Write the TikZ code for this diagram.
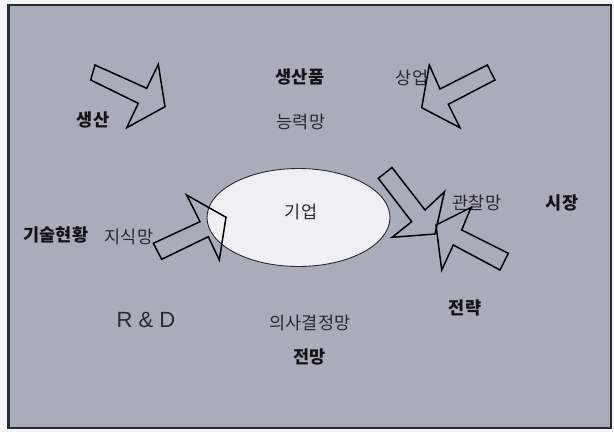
\documentclass[tikz,border=0pt]{standalone}
\usepackage{fontspec}
\setmainfont{Noto Sans CJK KR}
\newfontfamily\latinsans{Liberation Sans}
\usetikzlibrary{shapes.geometric}
\definecolor{bggray}{HTML}{A9ADBA}
\definecolor{ellfill}{HTML}{EEF0F3}
\definecolor{pagewhite}{HTML}{F5F5F7}
\definecolor{framecol}{HTML}{2A2A33}
\definecolor{regtext}{HTML}{2A2A30}
\definecolor{boldtext}{HTML}{141418}
\begin{document}
\begin{tikzpicture}[x=1pt,y=-1pt,
  blockarrow/.style={draw=black,line width=1.5pt,line join=miter},
  boldlabel/.style={font=\fontsize{17.5}{17.5}\selectfont\bfseries,text=boldtext,inner sep=0pt},
  reglabel/.style={font=\fontsize{17.5}{17.5}\selectfont,text=regtext,inner sep=0pt}]
\useasboundingbox (0,0) rectangle (614,432);
\fill[pagewhite] (0,0) rectangle (614,432);
\draw[framecol,line width=2.5pt,fill=bggray] (8.5,5) rectangle (611,428);
% central ellipse
\node[ellipse,draw=framecol,line width=0.9pt,fill=ellfill,minimum width=183pt,minimum height=98pt,inner sep=0pt] (firm) at (298.5,217.5) {};
\node[reglabel] (firmtext) at (301,212) {기업};
% labels
\node[boldlabel] (product) at (300,77) {생산품};
\node[reglabel] (commerce) at (412,78) {상업};
\node[boldlabel] (production) at (93,120) {생산};
\node[reglabel] (capability) at (301,122) {능력망};
\node[reglabel] (observe) at (477,203) {관찰망};
\node[boldlabel] (market) at (562,203) {시장};
\node[boldlabel] (techstate) at (56,235) {기술현황};
\node[reglabel] (knowledge) at (129,237) {지식망};
\node[font=\latinsans\fontsize{22}{22}\selectfont,text=regtext,inner sep=0pt] (rnd) at (146,320) {R \& D};
\node[reglabel] (decision) at (310,323) {의사결정망};
\node[boldlabel] (strategy) at (465,308) {전략};
\node[boldlabel] (outlook) at (309.5,357) {전망};
% block arrows
\draw[blockarrow] (95,65) -- (146.7,88.3) -- (158.3,64.3) -- (165,106.7) -- (126.7,127.7) -- (138.3,103.3) -- (90.7,80) -- cycle;
\draw[blockarrow] (487.3,65) -- (440,89) -- (429.3,65) -- (421.7,107.7) -- (460,127.7) -- (448.3,104.3) -- (495,80) -- cycle;
\draw[blockarrow] (153.3,243.3) -- (200,221.7) -- (186.7,195) -- (226,217.3) -- (219.3,260) -- (208.3,236.7) -- (161.7,259.3) -- cycle;
\draw[blockarrow] (392,167.5) -- (425,210) -- (444.5,191.7) -- (435,234) -- (392,237.3) -- (411.7,221.7) -- (378.3,178.3) -- cycle;
\draw[blockarrow] (508.3,253.3) -- (461.7,230) -- (471,207.5) -- (436,225) -- (441.7,270) -- (453.3,245) -- (500,270) -- cycle;
\end{tikzpicture}
\end{document}
